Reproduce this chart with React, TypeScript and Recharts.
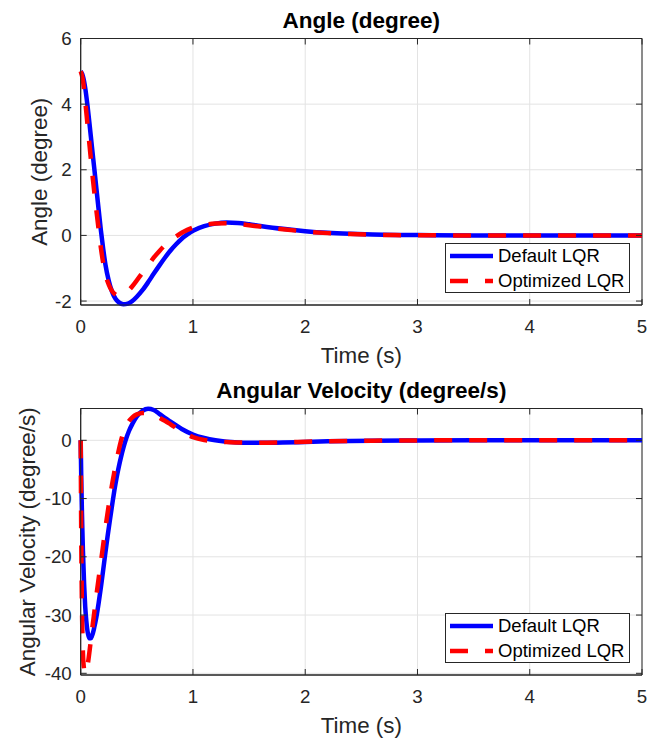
import {
  CartesianGrid,
  Legend,
  Line,
  LineChart,
  ReferenceArea,
  XAxis,
  YAxis,
} from 'recharts'

const FONT = '"Liberation Sans", Arial, Helvetica, sans-serif'

// time axis (s)
const xTicks = [0, 1, 2, 3, 4, 5]

// angle (degree)
const angleTime = [
  0, 0.02, 0.04, 0.06, 0.08, 0.1, 0.12, 0.14, 0.16, 0.18, 0.2, 0.22, 0.25, 0.28, 0.31, 0.34,
  0.38, 0.42, 0.46, 0.5, 0.55, 0.6, 0.65, 0.7, 0.75, 0.8, 0.85, 0.9, 0.95, 1.0, 1.1, 1.2, 1.3,
  1.4, 1.5, 1.6, 1.8, 2.0, 2.2, 2.4, 2.6, 2.8, 3.0, 3.5, 4.0, 4.5, 5.0,
]
const angleDefault = [
  5, 4.85, 4.5, 3.97, 3.35, 2.7, 2.07, 1.42, 0.78, 0.15, -0.4, -0.88, -1.38, -1.72, -1.93, -2.04,
  -2.1, -2.08, -2.0, -1.87, -1.67, -1.43, -1.17, -0.92, -0.68, -0.46, -0.27, -0.1, 0.03, 0.14,
  0.28, 0.36, 0.39, 0.38, 0.34, 0.29, 0.2, 0.13, 0.08, 0.05, 0.03, 0.015, 0.01, 0, 0, 0, 0,
]
const angleOptimized = [
  5, 4.72, 4.1, 3.4, 2.7, 2.0, 1.35, 0.75, 0.18, -0.38, -0.83, -1.18, -1.5, -1.7, -1.8, -1.84,
  -1.8, -1.7, -1.55, -1.37, -1.14, -0.92, -0.68, -0.48, -0.3, -0.15, -0.03, 0.08, 0.17, 0.24,
  0.32, 0.36, 0.37, 0.35, 0.31, 0.27, 0.19, 0.12, 0.07, 0.04, 0.02, 0.01, 0.005, 0, 0, 0, 0,
]
const angleTicks = [-2, 0, 2, 4, 6]

// angular velocity (degree/s)
const velTime = [
  0, 0.005, 0.01, 0.015, 0.02, 0.03, 0.04, 0.05, 0.06, 0.07, 0.08, 0.09, 0.1, 0.11, 0.12, 0.14,
  0.16, 0.18, 0.2, 0.22, 0.24, 0.26, 0.28, 0.3, 0.32, 0.34, 0.36, 0.38, 0.4, 0.43, 0.46, 0.5,
  0.55, 0.6, 0.65, 0.7, 0.75, 0.8, 0.9, 1.0, 1.1, 1.2, 1.3, 1.4, 1.5, 1.6, 1.8, 2.0, 2.2, 2.4,
  2.6, 3.0, 3.5, 4.0, 4.5, 5.0,
]
const velDefault = [
  0, -6.5, -11.5, -15.5, -19, -24.5, -28.5, -31, -32.7, -33.6, -34, -34, -33.6, -33, -32.2,
  -30.3, -27.9, -25.2, -22.3, -19.3, -16.4, -13.7, -11.1, -8.6, -6.4, -4.5, -2.8, -1.3, 0, 1.6,
  2.8, 4.1, 5.05, 5.4, 5.2, 4.55, 3.85, 3.2, 1.95, 1.0, 0.4, 0, -0.25, -0.37, -0.42, -0.43,
  -0.38, -0.28, -0.18, -0.11, -0.06, -0.02, 0, 0, 0, 0,
]
const velOptimized = [
  0, -17, -27, -33, -36.5, -39.3, -40, -39.7, -38.8, -37.5, -36, -34.4, -32.8, -31.2, -29.7,
  -26.6, -23.7, -20.9, -18, -15.1, -12.4, -9.9, -7.5, -5.4, -3.4, -1.6, 0, 1.3, 2.3, 3.3, 3.95,
  4.45, 4.7, 4.7, 4.4, 3.9, 3.35, 2.75, 1.5, 0.55, 0.05, -0.18, -0.3, -0.38, -0.4, -0.4, -0.34,
  -0.25, -0.16, -0.1, -0.06, -0.02, 0, 0, 0, 0,
]
const velTicks = [-40, -30, -20, -10, 0]

const seriesNames = ['Default LQR', 'Optimized LQR']

const angleData = angleTime.map((t, i) => ({ t, def: angleDefault[i], opt: angleOptimized[i] }))
const velData = velTime.map((t, i) => ({ t, def: velDefault[i], opt: velOptimized[i] }))

const W = 659
const H = 370
const LEFT = 80.7
const RIGHT = 17
const TOP = 38.5
const X_AXIS_H = 65
const PLOT_W = W - LEFT - RIGHT
const PLOT_H = H - TOP - X_AXIS_H
const AXIS = '#262626'
const TICK_LEN = 6
const DASH = '18 17'

const lineStyles = [
  { key: 'def', color: '#0000ff', dash: undefined as string | undefined },
  { key: 'opt', color: '#ff0000', dash: DASH },
]

function XTick({ x, y, payload }: any) {
  return (
    <g>
      <line x1={x} y1={y} x2={x} y2={y - TICK_LEN} stroke={AXIS} />
      <line x1={x} y1={y - PLOT_H} x2={x} y2={y - PLOT_H + TICK_LEN} stroke={AXIS} />
      <text x={x} y={y + 28} textAnchor="middle" fontSize={18.7} fill={AXIS} fontFamily={FONT}>
        {payload.value}
      </text>
    </g>
  )
}

function YTick({ x, y, payload }: any) {
  return (
    <g>
      <line x1={x} y1={y} x2={x + TICK_LEN} y2={y} stroke={AXIS} />
      <line x1={x + PLOT_W} y1={y} x2={x + PLOT_W - TICK_LEN} y2={y} stroke={AXIS} />
      <text x={x - 9} y={y} dy="0.35em" textAnchor="end" fontSize={18.7} fill={AXIS} fontFamily={FONT}>
        {payload.value}
      </text>
    </g>
  )
}

function LegendBox() {
  return (
    <div
      style={{
        width: 185,
        height: 50,
        boxSizing: 'border-box',
        border: `1px solid ${AXIS}`,
        background: '#fff',
        position: 'relative',
        fontFamily: FONT,
      }}
    >
      {seriesNames.map((name, i) => (
        <div
          key={name}
          style={{
            position: 'absolute',
            left: 0,
            top: 12.5 + i * 24.5 - 12,
            height: 24,
            display: 'flex',
            alignItems: 'center',
            whiteSpace: 'nowrap',
          }}
        >
          <svg width={50} height={24}>
            <line
              x1={4}
              x2={47}
              y1={12}
              y2={12}
              stroke={lineStyles[i].color}
              strokeWidth={4.5}
              strokeDasharray={lineStyles[i].dash}
            />
          </svg>
          <span style={{ fontSize: 18.5, color: '#000', marginLeft: 2, lineHeight: '24px' }}>{name}</span>
        </div>
      ))}
    </div>
  )
}

interface PanelProps {
  title: string
  yLabel: string
  yLabelX: number
  data: { t: number; def: number; opt: number }[]
  yDomain: [number, number]
  yTicks: number[]
}

function Panel({ title, yLabel, yLabelX, data, yDomain, yTicks }: PanelProps) {
  const cx = LEFT + PLOT_W / 2
  const cy = TOP + PLOT_H / 2
  return (
    <div style={{ position: 'relative', width: W, height: H }}>
      <LineChart width={W} height={H} data={data} margin={{ top: TOP, right: RIGHT, bottom: 0, left: 0 }}>
        <CartesianGrid stroke="#e3e3e3" strokeWidth={1} />
        <XAxis
          dataKey="t"
          type="number"
          domain={[0, 5]}
          ticks={xTicks}
          height={X_AXIS_H}
          tickSize={0}
          tickMargin={0}
          tick={<XTick />}
          axisLine={{ stroke: AXIS }}
          tickLine={false}
        />
        <YAxis
          type="number"
          domain={yDomain}
          ticks={yTicks}
          width={LEFT}
          tickSize={0}
          tickMargin={0}
          tick={<YTick />}
          axisLine={{ stroke: AXIS }}
          tickLine={false}
        />
        <ReferenceArea x1={0} x2={5} y1={yDomain[0]} y2={yDomain[1]} fill="none" stroke={AXIS} strokeWidth={1} />
        {lineStyles.map((s) => (
          <Line
            key={s.key}
            type="monotone"
            dataKey={s.key}
            stroke={s.color}
            strokeWidth={4.5}
            strokeDasharray={s.dash}
            dot={false}
            activeDot={false}
            isAnimationActive={false}
          />
        ))}
        <Legend
          layout="horizontal"
          verticalAlign="middle"
          align="center"
          content={() => <LegendBox />}
          wrapperStyle={{ position: 'absolute', left: 445, top: 242.5, width: 185, height: 50 }}
        />
      </LineChart>
      <svg
        width={W}
        height={H}
        style={{ position: 'absolute', left: 0, top: 0, pointerEvents: 'none' }}
        fontFamily={FONT}
      >
        <text x={cx} y={28} textAnchor="middle" fontSize={22.5} fontWeight="bold" fill="#000">
          {title}
        </text>
        <text x={cx} y={363} textAnchor="middle" fontSize={22.4} fill={AXIS}>
          Time (s)
        </text>
        <text
          x={yLabelX}
          y={cy}
          textAnchor="middle"
          fontSize={22.4}
          fill={AXIS}
          transform={`rotate(-90, ${yLabelX}, ${cy})`}
        >
          {yLabel}
        </text>
      </svg>
    </div>
  )
}

export default function App() {
  return (
    <div style={{ position: 'absolute', left: 0, top: 0, width: W, height: 740, background: '#fff' }}>
      <Panel
        title="Angle (degree)"
        yLabel="Angle (degree)"
        yLabelX={46.5}
        data={angleData}
        yDomain={[-2.12, 6]}
        yTicks={angleTicks}
      />
      <Panel
        title="Angular Velocity (degree/s)"
        yLabel="Angular Velocity (degree/s)"
        yLabelX={35}
        data={velData}
        yDomain={[-40.29, 5.46]}
        yTicks={velTicks}
      />
    </div>
  )
}
